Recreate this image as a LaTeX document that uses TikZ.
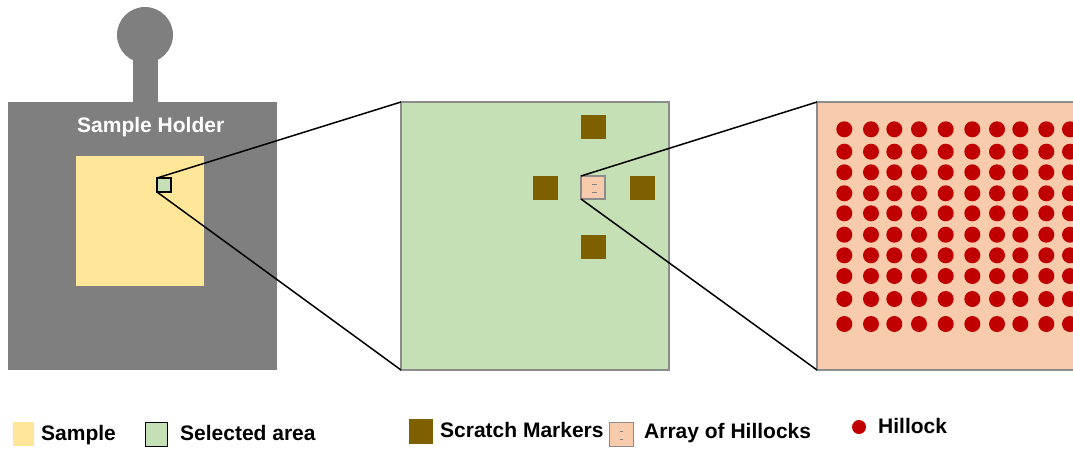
\documentclass[tikz,border=0pt]{standalone}
\usepackage{fontspec}
\setmainfont{Liberation Sans}
\usetikzlibrary{positioning}
\definecolor{holderG}{HTML}{7F7F7F}
\definecolor{sampleY}{HTML}{FFE699}
\definecolor{areaG}{HTML}{C5E0B4}
\definecolor{markB}{HTML}{7F6000}
\definecolor{arrayP}{HTML}{F8CBAD}
\definecolor{hillR}{HTML}{C00000}
\definecolor{edgeG}{HTML}{8C8C8C}
\tikzset{
  box/.style={rectangle, inner sep=0pt, outer sep=0pt, anchor=north west},
  lbl/.style={font=\bfseries\fontsize{21}{25}\selectfont, inner sep=0pt, anchor=base west},
  zoomline/.style={line width=1.5pt, black},
}
\begin{document}
\begin{tikzpicture}[x=1pt, y=-1pt]
\useasboundingbox (0,0) rectangle (1073,448);
% sample holder with its handle
\fill[holderG] (133,50) rectangle (158,103);
\fill[holderG] (145,35) circle (28);
\node[box, fill=holderG, minimum width=269pt, minimum height=268pt] (holder) at (8,102) {};
\node[lbl, text=white] (holdertxt) at (77,132) {Sample Holder};
\node[box, fill=sampleY, minimum width=128pt, minimum height=130pt] (sample) at (76,156) {};
\node[box, fill=areaG, draw=black, line width=1.3pt, minimum size=14pt] (sel) at (157,178) {};
% selected area, enlarged
\node[box, fill=areaG, draw=edgeG, line width=1.3pt, minimum width=268pt, minimum height=268pt] (area) at (401,102) {};
\draw[zoomline] (sel.north west) -- (area.north west);
\draw[zoomline] (sel.south west) -- (area.south west);
\foreach \name/\x/\y in {mtop/581/115, mleft/533/176, mright/630/176, mbot/581/235}
  \node[box, fill=markB, minimum width=25pt, minimum height=24pt] (\name) at (\x,\y) {};
\node[box, fill=arrayP, draw=edgeG, line width=1.3pt, minimum width=24pt, minimum height=23pt] (arr) at (581,176) {};
\draw[gray, line width=0.5pt] (591.5,184) -- (596.5,184) (591.5,192) -- (596.5,192);
% array of hillocks, enlarged
\node[box, fill=arrayP, draw=edgeG, line width=1.3pt, minimum width=300pt, minimum height=268pt] (hills) at (817,102) {};
\draw[zoomline] (arr.north west) -- (hills.north west);
\draw[zoomline] (arr.south west) -- (hills.south west);
\foreach \x in {844.3, 871, 894.3, 919, 945.7, 972.3, 997, 1020.3, 1046.3, 1070}
  \foreach \y in {129.3, 151.7, 172.3, 193.3, 213.3, 234.7, 255.3, 276, 299, 324}
    \fill[hillR] (\x,\y) circle (8);
% legend
\node[box, fill=sampleY, minimum width=21pt, minimum height=24pt] (lsample) at (13,422) {};
\node[lbl] (tsample) at (41,440) {Sample};
\node[box, fill=areaG, draw=black, line width=1pt, minimum width=22pt, minimum height=24pt] (lsel) at (145,422) {};
\node[lbl] (tsel) at (180,440) {Selected area};
\node[box, fill=markB, minimum width=24pt, minimum height=25pt] (lmark) at (409,419) {};
\node[lbl] (tmark) at (440,437) {Scratch Markers};
\node[box, fill=arrayP, draw=edgeG, line width=1pt, minimum width=24pt, minimum height=24pt] (larr) at (609,422) {};
\draw[gray, line width=0.4pt] (619.5,431) -- (622.5,431) (619.5,439) -- (622.5,439);
\fill[hillR] (859,427) circle (7);
\node[lbl] (tarr) at (644,438) {Array of Hillocks};
\node[lbl] (thill) at (878,433) {Hillock};
\end{tikzpicture}
\end{document}
